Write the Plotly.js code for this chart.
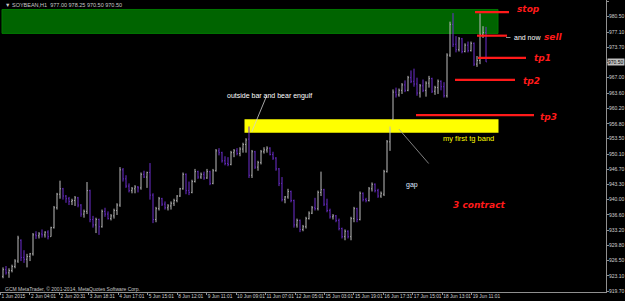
<!DOCTYPE html>
<html>
<head>
<meta charset="utf-8">
<script src="https://cdn.plot.ly/plotly-3.0.1.min.js"></script>
<style>
html,body{margin:0;padding:0;background:#000;}
#chart{width:625px;height:301px;}
</style>
</head>
<body>
<div id="chart"></div>
<script>
// ---- Data (SOYBEAN, H1) ----
const opens = [923.0,924.5,923.8,924.3,925.2,926.4,931.0,927.2,926.8,927.4,928.0,932.2,932.0,932.4,932.2,932.8,931.8,933.8,938.2,941.2,
942.4,940.8,940.2,939.6,939.8,940.4,938.8,936.8,937.4,942.0,935.6,934.4,935.6,934.0,937.4,936.8,935.8,936.4,937.6,938.8,
946.6,944.6,943.0,942.0,942.4,942.8,942.6,945.6,945.0,946.0,941.0,935.6,938.0,940.2,939.0,938.2,938.6,939.2,939.8,940.8,
942.4,945.6,942.0,941.6,944.0,946.2,945.0,945.6,944.8,946.2,943.6,946.4,950.8,950.4,948.6,948.0,947.8,950.4,950.8,950.2,
951.2,952.2,953.4,945.4,950.6,947.2,948.2,950.6,951.0,951.4,950.0,949.2,946.8,943.6,940.0,940.6,941.8,939.8,934.4,935.4,
933.4,934.0,935.8,937.0,938.2,938.0,941.6,942.2,939.0,937.6,936.2,936.4,935.4,933.6,931.8,933.0,931.8,935.8,938.0,935.6,
941.4,940.0,939.8,942.4,943.4,942.0,940.8,941.2,946.2,952.8,957.8,963.8,963.2,964.2,965.4,964.2,967.0,966.2,965.6,963.6,
965.2,964.2,965.8,966.8,964.0,964.8,966.2,965.0,963.0,972.0,978.8,974.4,973.2,975.6,972.8,974.2,973.0,974.6,970.0,970.8,
976.6,977.0];
const highs = [925.0,925.3,924.8,925.6,926.8,932.0,931.2,928.8,928.0,928.2,932.6,933.0,932.8,933.4,933.0,933.2,934.0,938.6,941.5,944.2,
942.6,941.0,940.6,940.2,940.8,940.6,939.0,937.8,943.9,942.2,936.4,936.0,935.8,937.8,938.2,937.4,936.8,938.0,939.2,947.2,
947.0,945.4,943.6,942.8,943.2,943.0,946.0,946.4,946.2,948.1,941.4,938.4,940.6,940.4,939.6,939.0,939.6,940.2,941.0,942.6,
946.0,945.8,944.0,944.4,946.8,946.4,946.0,946.2,946.8,946.4,946.8,951.2,951.4,950.6,949.6,949.4,950.8,951.2,951.4,951.6,
952.6,953.6,956.2,951.0,950.8,948.6,951.0,951.6,951.8,951.6,950.6,949.4,947.0,945.0,940.8,942.4,942.0,940.0,935.8,935.6,
934.4,936.2,937.4,938.6,940.4,942.0,946.2,942.4,940.2,938.0,936.8,936.6,935.8,933.8,933.4,933.2,936.2,938.4,938.2,941.8,
941.6,940.4,942.8,943.8,943.6,942.4,941.8,946.6,953.2,956.2,964.4,964.8,964.6,965.8,966.4,967.4,968.6,969.0,967.0,965.6,
966.6,966.2,967.4,967.0,965.2,966.6,966.4,966.0,972.4,979.4,981.3,976.2,976.0,975.8,974.6,975.0,975.0,974.8,971.8,981.2,
978.4,978.25];
const lows = [922.6,923.4,922.7,923.9,924.8,926.0,926.4,926.0,925.0,926.4,927.6,931.3,931.4,931.6,931.6,931.2,931.8,933.6,937.8,940.2,
940.0,939.3,938.8,938.8,938.6,938.3,936.2,936.0,936.8,935.0,933.8,932.6,932.2,933.8,936.2,935.6,935.4,935.8,936.6,938.4,
944.0,942.6,941.6,941.4,941.4,941.6,942.2,944.8,942.6,940.0,934.8,935.0,937.6,938.6,937.8,937.6,937.8,938.6,939.4,940.6,
942.2,941.2,941.0,941.4,943.8,944.6,944.6,944.4,944.6,943.2,943.4,946.2,949.8,948.2,947.6,947.4,947.6,949.4,949.8,949.6,
950.4,950.4,944.8,944.8,946.8,946.4,947.8,950.2,950.4,949.8,948.8,946.4,943.0,939.6,939.2,940.2,939.4,933.8,933.8,932.8,
933.0,933.6,935.6,936.8,937.6,937.6,940.8,938.6,937.2,935.8,935.6,935.0,933.2,931.4,931.0,931.4,931.0,935.0,935.0,935.4,
939.6,939.4,939.6,941.8,941.6,940.4,940.4,940.8,946.0,950.8,957.6,962.6,962.8,963.4,963.8,964.0,965.8,965.0,963.0,962.6,
963.8,962.8,964.8,963.6,963.2,963.4,964.2,962.6,962.6,971.6,973.8,972.6,972.8,972.4,972.6,972.6,972.8,969.6,969.4,970.0,
975.8,970.5];
const closes = [924.5,923.8,924.3,925.2,926.4,931.5,927.2,926.8,927.4,928.0,932.2,932.0,932.4,932.2,932.8,931.8,933.8,938.2,941.2,942.4,
940.8,940.2,939.6,939.8,940.4,938.8,936.8,937.4,942.0,935.6,934.4,935.6,934.0,937.4,936.8,935.8,936.4,937.6,938.8,946.6,
944.6,943.0,942.0,942.4,942.8,942.6,945.6,945.0,946.0,941.0,935.6,938.0,940.2,939.0,938.2,938.6,939.2,939.8,940.8,942.4,
945.6,942.0,941.6,944.0,946.2,945.0,945.6,944.8,946.2,943.6,946.4,950.8,950.4,948.6,948.0,947.8,950.4,950.8,950.2,951.2,
952.2,953.2,945.4,950.6,947.2,948.2,950.6,951.0,951.4,950.0,949.2,946.8,943.6,940.0,940.6,941.8,939.8,934.4,935.4,933.4,
934.0,935.8,937.0,938.2,938.0,941.6,942.2,939.0,937.6,936.2,936.4,935.4,933.6,931.8,933.0,931.8,935.8,938.0,935.6,941.4,
940.0,939.8,942.4,943.4,942.0,940.8,941.4,946.2,952.8,955.6,963.8,963.2,964.2,965.4,964.2,967.0,966.2,965.6,963.6,965.2,
964.2,965.8,966.8,964.0,964.8,966.2,965.0,963.0,972.0,978.8,974.4,973.2,975.6,972.8,974.2,973.0,974.6,970.0,970.8,976.6,
977.0,970.5];

const priceTicks = [983.90,980.50,977.10,973.70,970.30,967.00,963.60,960.20,956.80,953.50,950.10,946.70,943.30,940.00,936.60,933.20,929.80,926.50,923.10,919.70];
const timeLabels = ["1 Jun 2015","2 Jun 04:01","2 Jun 20:31","3 Jun 18:31","4 Jun 17:01","5 Jun 15:01","8 Jun 12:01","9 Jun 11:01","10 Jun 09:01","11 Jun 07:01","12 Jun 05:01","15 Jun 03:01","15 Jun 19:01","16 Jun 17:31","17 Jun 15:01","18 Jun 13:01","19 Jun 11:01"];

const levelNames = ["stop","sell","tp1","tp2","tp3"];
const levelPrices = [981.5, 976.3, 971.4, 966.5, 958.7];
const supplyZone = [976.8, 982.1];
const tgBand = [954.8, 957.8];
const lastPrice = 970.50;

// ---- helpers for layout positions (pixel -> axis units) ----
const PW = 606, PH = 292;
const bx = p => (p - 3) / 3;            // pixel x -> bar index
const px = p => p / PW;                 // pixel x -> paper
const py = p => 1 - p / PH;             // pixel y -> paper
const idx = opens.map((_, i) => i);
const tickPos = timeLabels.map((_, k) => bx(k * 29.45 + 0.5));

const trace = {
  type: 'ohlc',
  x: idx, open: opens, high: highs, low: lows, close: closes,
  increasing: {line: {color: '#bdbdbd', width: 1}},
  decreasing: {line: {color: '#6f2fd0', width: 1}},
  tickwidth: 0.25,
  hoverinfo: 'skip'
};

const red = '#ff1a1a';
const levelX = [[bx(475), bx(509)], [bx(477), bx(507)], [bx(478), bx(526)], [bx(455), bx(515)], [bx(416), bx(534)]];
const shapes = [
  {type:'rect', layer:'below', xref:'x', yref:'y', x0:bx(2), x1:bx(498), y0:supplyZone[0], y1:supplyZone[1],
   fillcolor:'#006400', line:{color:'#007800', width:1}},
  {type:'rect', layer:'below', xref:'x', yref:'y', x0:bx(244.5), x1:bx(498.5), y0:tgBand[0], y1:tgBand[1],
   fillcolor:'#ffff00', line:{width:0}},
  {type:'line', xref:'x', yref:'y', x0:bx(266.7), y0:963.0, x1:bx(251.7), y1:955.0, line:{color:'#d0d0d0', width:0.8}},
  {type:'line', xref:'x', yref:'y', x0:bx(399), y0:955.6, x1:bx(428.7), y1:948.0, line:{color:'#a0a0a0', width:0.8}},
  {type:'line', xref:'x', yref:'y', x0:bx(506), y0:975.9, x1:bx(510.5), y1:975.9, line:{color:'#909090', width:1}}
];
levelPrices.forEach((p, k) => shapes.push({type:'line', xref:'x', yref:'y', x0:levelX[k][0], x1:levelX[k][1], y0:p, y1:p,
  line:{color:red, width:2.2}}));

const txtFont = {family:'Liberation Sans, Arial, sans-serif', size:7, color:'#ffffff'};
const redFont = {family:'DejaVu Sans, sans-serif', size:9, color:red, weight:'bold', style:'italic'};
const levelTextPos = [[515, 9], [542, 36.5], [532, 58], [521, 81], [538, 117]];
const annotations = [
  {xref:'paper', yref:'paper', x:px(3), y:py(4.7), xanchor:'left', yanchor:'middle', showarrow:false,
   text:'▼ SOYBEAN,H1  977.00 978.25 970.50 970.50', font:{family:'Liberation Sans, Arial, sans-serif', size:5.5, color:'#c8c8c8'}},
  {xref:'paper', yref:'paper', x:px(3), y:py(288.5), xanchor:'left', yanchor:'middle', showarrow:false,
   text:'GCM MetaTrader, © 2001-2014, MetaQuotes Software Corp.', font:{family:'Liberation Sans, Arial, sans-serif', size:5, color:'#c8c8c8'}},
  {xref:'paper', yref:'paper', x:px(225), y:py(96), xanchor:'left', yanchor:'middle', showarrow:false,
   text:'outside bar and bear engulf', font:txtFont},
  {xref:'paper', yref:'paper', x:px(441), y:py(138.5), xanchor:'left', yanchor:'middle', showarrow:false,
   text:'my first tg band', font:Object.assign({}, txtFont, {size:7.5, color:'#ffff00'})},
  {xref:'paper', yref:'paper', x:px(403.5), y:py(185), xanchor:'left', yanchor:'middle', showarrow:false,
   text:'gap', font:Object.assign({}, txtFont, {color:'#dfe9ff'})},
  {xref:'paper', yref:'paper', x:px(511.5), y:py(37.5), xanchor:'left', yanchor:'middle', showarrow:false,
   text:'and now', font:txtFont},
  {xref:'paper', yref:'paper', x:px(451), y:py(205), xanchor:'left', yanchor:'middle', showarrow:false,
   text:'3 contract', font:redFont},
  {xref:'paper', x:1.0, yref:'y', y:lastPrice, xanchor:'left', yanchor:'middle', showarrow:false,
   text:'970.50', bgcolor:'#c0c0c0', borderpad:0, xshift:1,
   font:{family:'Liberation Sans, Arial, sans-serif', size:5, color:'#000000'}}
];
levelNames.forEach((n, k) => annotations.push({xref:'paper', yref:'paper', x:px(levelTextPos[k][0]), y:py(levelTextPos[k][1]),
  xanchor:'left', yanchor:'middle', showarrow:false, text:n, font:redFont}));

const axFont = {family:'Liberation Sans, Arial, sans-serif', size:4.8, color:'#d0d0d0'};
const layout = {
  width:625, height:301,
  margin:{l:0, r:19, t:0, b:9, pad:0},
  paper_bgcolor:'#000000', plot_bgcolor:'#000000',
  showlegend:false,
  xaxis:{range:[bx(0), bx(PW)], tickvals:tickPos, ticktext:timeLabels, ticklabelposition:'outside right',
    tickangle:0, ticklabelstandoff:-1,
    tickfont:axFont, ticks:'outside', ticklen:2, tickcolor:'#909090', showline:true, linecolor:'#909090', linewidth:1,
    showgrid:false, zeroline:false, rangeslider:{visible:false}, fixedrange:true},
  yaxis:{side:'right', range:[919.55, 984.2], tickvals:priceTicks,
    ticktext:priceTicks.map(v => v === 970.30 ? '' : v.toFixed(2)),
    tickfont:Object.assign({}, axFont, {size:5}), ticks:'outside', ticklen:2, ticklabelstandoff:-1,
    tickcolor:'#909090', showline:true, linecolor:'#909090', linewidth:1,
    showgrid:false, zeroline:false, fixedrange:true},
  shapes:shapes,
  annotations:annotations
};

Plotly.newPlot('chart', [trace], layout, {staticPlot:true, displayModeBar:false});
</script>
</body>
</html>
